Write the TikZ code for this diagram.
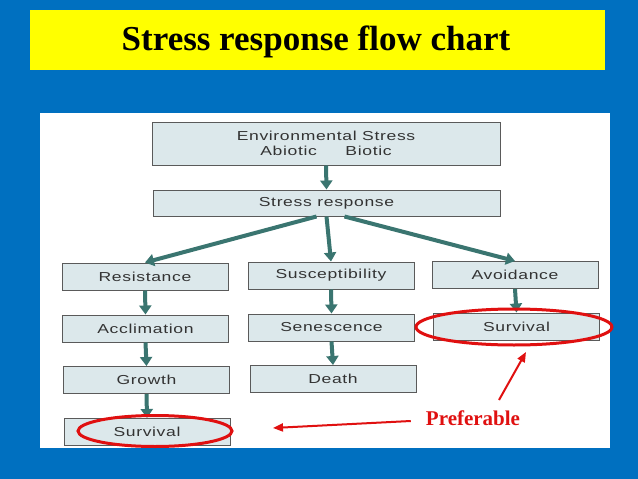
\documentclass[tikz,border=0pt]{standalone}
\usepackage{fontspec}
\setmainfont{Liberation Serif}
\setsansfont{Liberation Sans}
\newfontfamily\boxfont[FakeStretch=1.35, LetterSpace=5]{Liberation Sans}
\usetikzlibrary{arrows.meta,calc}
\definecolor{bgblue}{HTML}{0070C0}
\definecolor{titleyellow}{HTML}{FFFF00}
\definecolor{boxfill}{HTML}{DCE8EB}
\definecolor{boxline}{HTML}{5A5A5A}
\definecolor{teal}{HTML}{3A7570}
\definecolor{redline}{HTML}{E01010}
\definecolor{textgray}{HTML}{333333}
\tikzset{
  flowbox/.style={draw=boxline, line width=1pt, fill=boxfill, minimum height=27pt,
    minimum width=166pt, inner sep=0pt, font=\boxfont\fontsize{13}{15}\selectfont,
    text=textgray, align=center},
  flowarrow/.style={draw=teal, line width=4pt, -{Triangle[width=12pt,length=9pt]}},
  redarrow/.style={draw=redline, line width=2pt, -{Triangle[width=8pt,length=10pt]}}
}
\begin{document}
\begin{tikzpicture}[x=1pt,y=-1pt]
\useasboundingbox (0,0) rectangle (638,479);
\fill[bgblue] (0,0) rectangle (638,479);
\fill[titleyellow] (30,10) rectangle (605,70);
\node (title) at (316,42) {\bfseries\fontsize{35}{40}\selectfont Stress response flow chart};
\fill[white] (40,113) rectangle (610,448);

\node[flowbox, minimum width=348pt, minimum height=43pt] (env) at (326,143.5)
  {Environmental Stress\\Abiotic\hspace{2.2em}Biotic};
\node[flowbox, minimum width=347pt, minimum height=26pt] (sr) at (326.5,203) {Stress response};

\node[flowbox] (res) at (145,276.5) {Resistance};
\node[flowbox] (sus) at (331,275.5) {Susceptibility};
\node[flowbox] (avo) at (515,275) {Avoidance};

\node[flowbox] (acc) at (145.5,328.5) {Acclimation};
\node[flowbox] (sen) at (331.5,327.5) {Senescence};
\node[flowbox] (sur2) at (516.5,326.5) {Survival};

\node[flowbox] (gro) at (146.5,380) {Growth};
\node[flowbox] (dea) at (333,379) {Death};

\node[flowbox] (sur1) at (147,432) {Survival};

\draw[flowarrow] (env.south) -- (sr.north);
\draw[flowarrow] ($(sr.south)+(-10,0)$) -- (res.north);
\draw[flowarrow] (sr.south) -- (sus.north);
\draw[flowarrow] ($(sr.south)+(18,0)$) -- (avo.north);
\draw[flowarrow] (res.south) -- (acc.north);
\draw[flowarrow] (sus.south) -- (sen.north);
\draw[flowarrow] (avo.south) -- (sur2.north);
\draw[flowarrow] (acc.south) -- (gro.north);
\draw[flowarrow] (sen.south) -- (dea.north);
\draw[flowarrow] (gro.south) -- (sur1.north);

\draw[redline, line width=3pt] (155,431) ellipse [x radius=77, y radius=15.5];
\draw[redline, line width=3pt] (514,327) ellipse [x radius=98, y radius=18];
\coordinate (ring1) at (273,428);
\coordinate (ring2) at (526,352);

\node[text=redline, font=\bfseries\fontsize{21}{24}\selectfont, inner sep=1pt] (pref) at (473,418) {Preferable};
\draw[redarrow] ($(pref.west)+(-14,3)$) -- (ring1);
\draw[redarrow] (499,400) -- (ring2);
\end{tikzpicture}
\end{document}
